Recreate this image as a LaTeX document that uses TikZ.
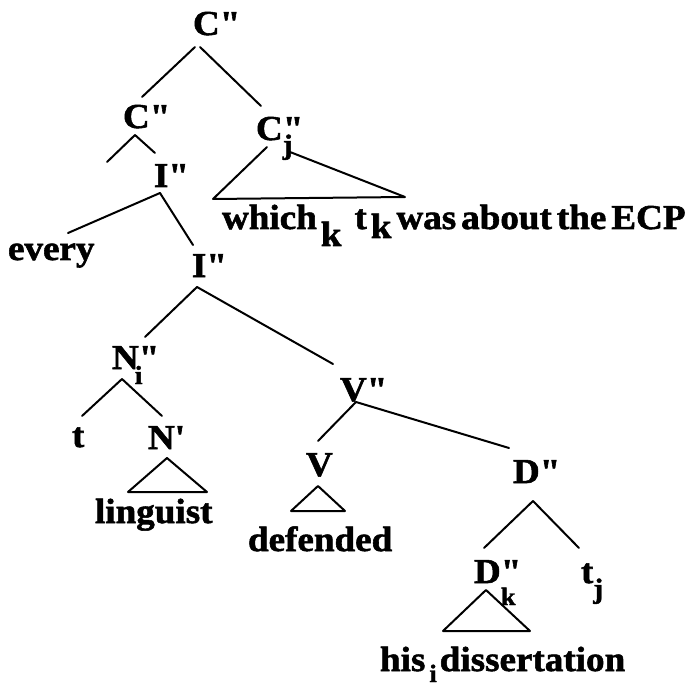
\documentclass[tikz,border=0pt]{standalone}
\usepackage{fontspec}
\setmainfont{Liberation Serif}[Ligatures=TeXOff,FakeStretch=1.06,FakeBold=1.6]
\newcommand\bigf{\fontsize{35pt}{40pt}\selectfont\bfseries}
\newcommand\lowsub[3]{\raisebox{-#1}{\fontsize{#2}{#2}\selectfont #3}}
\tikzset{
  lab/.style={anchor=base west, inner sep=0pt, outer sep=0pt, font=\bigf},
  edge/.style={line width=2pt, line cap=round, line join=round}
}
\begin{document}
\begin{tikzpicture}[x=1pt,y=-1pt]
\useasboundingbox (0,0) rectangle (699,687);
% labels
\node[lab] (c0) at (193,35) {C"};
\node[lab] (c1) at (123,128) {C"};
\node[lab] (cj) at (256,140) {C\rlap{\lowsub{14pt}{28pt}{j}}"};
\node[lab] (which) at (222,229) {\spaceskip=5pt which\hspace{4pt}\raisebox{-17pt}{k}\hspace{13pt}t\hspace{4pt}\raisebox{-9pt}{k} was about the ECP};
\node[lab] (i1) at (154,187) {I"};
\node[lab] (every) at (8,260) {every};
\node[lab] (i2) at (192,277) {I"};
\node[lab] (ni) at (112,369) {N\rlap{\hspace{-4pt}\lowsub{15pt}{26pt}{i}}"};
\node[lab] (t) at (72,447) {t};
\node[lab] (np) at (148,449) {N'};
\node[lab] (ling) at (95,523) {linguist};
\node[lab] (vpp) at (340,401) {V"};
\node[lab] (v) at (306,476) {V};
\node[lab] (def) at (248,551) {defended};
\node[lab] (dpp) at (513,483) {D"};
\node[lab] (dk) at (474,583) {D\rlap{\lowsub{22pt}{25pt}{k}}"};
\node[lab] (tj) at (581,583) {t\lowsub{15pt}{28pt}{j}};
\node[lab] (his) at (380,671) {his\hspace{4pt}\lowsub{11pt}{25pt}{i}\hspace{3pt}dissertation};
% connector end points
\coordinate (c0l) at (195,47);  \coordinate (c1t) at (142,97);
\coordinate (c0r) at (200,47);  \coordinate (cjt) at (261,106);
\coordinate (c1b) at (135,135); \coordinate (c1stub) at (107,162);
\coordinate (i1t) at (155,153);
\coordinate (i1b) at (160,193); \coordinate (everyt) at (68,233);
\coordinate (i2t) at (193,245);
\coordinate (i2b) at (197,287); \coordinate (nit) at (145,337);
\coordinate (vppt) at (333,364);
\coordinate (nib) at (122,379); \coordinate (tt) at (82,416);
\coordinate (npt) at (162,416);
\coordinate (vppb) at (356,402); \coordinate (vt) at (318,441);
\coordinate (dppt) at (509,448);
\coordinate (dppb) at (533,501); \coordinate (dkt) at (484,548);
\coordinate (tjt) at (579,548);
% triangles
\coordinate (npa) at (167,458); \coordinate (npl) at (128,492); \coordinate (npr) at (207,492);
\coordinate (va) at (318,486);  \coordinate (vl) at (291,511);  \coordinate (vr) at (345,511);
\coordinate (dka) at (486,590); \coordinate (dkl) at (443,631); \coordinate (dkr) at (530,631);
\coordinate (cja) at (267,147); \coordinate (cjl) at (213,199); \coordinate (cjr) at (405,197);
\coordinate (cjb) at (290,152);
% edges
\draw[edge] (c0l) -- (c1t);
\draw[edge] (c0r) -- (cjt);
\draw[edge] (c1b) -- (c1stub);
\draw[edge] (c1b) -- (i1t);
\draw[edge] (i1b) -- (everyt);
\draw[edge] (i1b) -- (i2t);
\draw[edge] (i2b) -- (nit);
\draw[edge] (i2b) -- (vppt);
\draw[edge] (nib) -- (tt);
\draw[edge] (nib) -- (npt);
\draw[edge] (vppb) -- (vt);
\draw[edge] (vppb) -- (dppt);
\draw[edge] (dppb) -- (dkt);
\draw[edge] (dppb) -- (tjt);
\draw[edge] (npa) -- (npl) -- (npr) -- cycle;
\draw[edge] (va) -- (vl) -- (vr) -- cycle;
\draw[edge] (dka) -- (dkl) -- (dkr) -- cycle;
\draw[edge] (cja) -- (cjl) -- (cjr) -- (cjb);
\end{tikzpicture}
\end{document}
